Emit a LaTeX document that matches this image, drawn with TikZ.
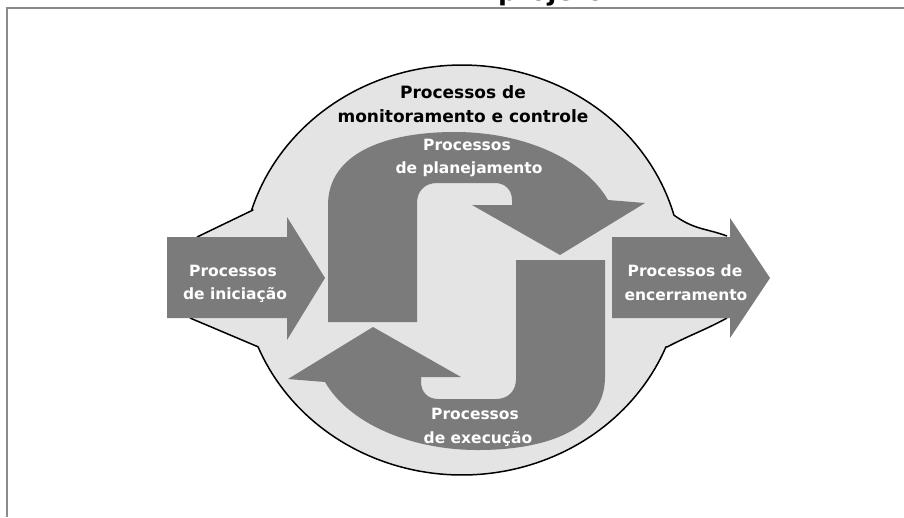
\documentclass[tikz,border=0pt]{standalone}
\usepackage{fontspec}
\setmainfont{DejaVu Sans}
\definecolor{ringfill}{HTML}{E4E4E4}
\definecolor{bandfill}{HTML}{7B7B7B}
\definecolor{framegray}{HTML}{8A8A8A}
\tikzset{
  blacklabel/.style={anchor=base, inner sep=0pt, text=black, font=\bfseries\fontsize{17}{20}\selectfont},
  whitelabel/.style={anchor=base, inner sep=0pt, text=white, font=\bfseries\fontsize{15.5}{18}\selectfont},
  outline/.style={draw=black, line width=1.5pt, line join=round},
}
% S-shaped band (upper half); the lower half is the same band turned by 180 degrees
\def\bandpath{(328,322) -- (328,205) .. controls (328,155) and (382,132) .. (455,132)
  .. controls (525,132) and (585,160) .. (608,200) -- (645,203) -- (560,255) -- (472,205)
  -- (512,205) -- (512,200) .. controls (512,190) and (505,183) .. (495,183)
  -- (437,183) .. controls (425,183) and (417,191) .. (417,203) -- (417,322) -- cycle}
\begin{document}
\begin{tikzpicture}[x=1pt,y=-1pt]
\useasboundingbox (0,0) rectangle (904,517);
\clip (0,0) rectangle (904,517);
\fill[white] (0,0) rectangle (904,517);

% frame and clipped title
\draw[framegray, line width=2pt] (7,517) -- (7,8) -- (904,8);
\node[anchor=base west, inner sep=0pt, font=\bfseries\fontsize{26}{30}\selectfont] (title) at (498,0) {projeto};

% light ring region joined to the side arrows
\fill[ringfill] (197,237) -- (253,210)
  -- plot[domain=163:15.5, samples=80, variable=\t] ({462+220*cos(\t)},{270-205*sin(\t)})
  .. controls (695,230) and (705,228) .. (727,236) -- (727,318)
  .. controls (705,330) and (690,335) .. (667,347)
  -- plot[domain=-22:-158, samples=80, variable=\t] ({462+220*cos(\t)},{270-205*sin(\t)})
  -- (190,318) -- cycle;
\draw[outline] (197,237) -- (253,210)
  -- plot[domain=163:15.5, samples=80, variable=\t] ({462+220*cos(\t)},{270-205*sin(\t)})
  .. controls (695,230) and (705,228) .. (727,236);
\draw[outline] (727,318) .. controls (705,330) and (690,335) .. (667,347)
  -- plot[domain=-22:-158, samples=80, variable=\t] ({462+220*cos(\t)},{270-205*sin(\t)})
  -- (190,318);

% side arrows
\fill[bandfill] (167,237) -- (287,237) -- (287,217) -- (325,278) -- (287,340) -- (287,318) -- (167,318) -- cycle;
\fill[bandfill] (612,237) -- (730,237) -- (730,218) -- (770,278) -- (730,338) -- (730,318) -- (612,318) -- cycle;

% central S bands
\fill[bandfill] \bandpath;
\fill[bandfill, rotate around={180:(466.5,291)}] \bandpath;

% labels
\node[blacklabel] (mcA) at (463,98) {Processos de};
\node[blacklabel] (mcB) at (463,122) {monitoramento e controle};
\node[whitelabel] (plA) at (467,150) {Processos};
\node[whitelabel] (plB) at (469,173) {de planejamento};
\node[whitelabel] (inA) at (233,276) {Processos};
\node[whitelabel] (inB) at (235,299) {de iniciação};
\node[whitelabel] (enA) at (685,276) {Processos de};
\node[whitelabel] (enB) at (686,300) {encerramento};
\node[whitelabel] (exA) at (475,419) {Processos};
\node[whitelabel] (exB) at (478,443) {de execução};
\end{tikzpicture}
\end{document}
